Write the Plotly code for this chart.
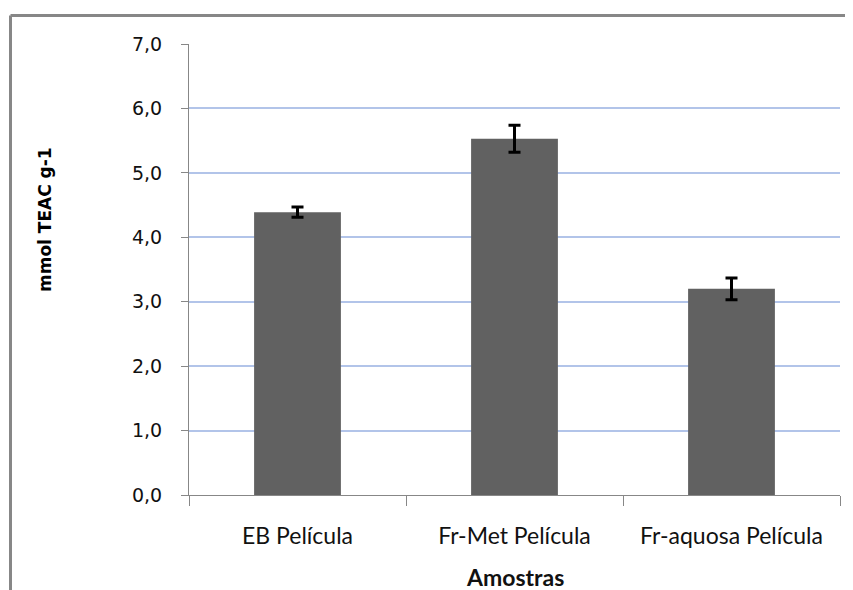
import plotly.graph_objects as go

categories = ["EB Película", "Fr-Met Película", "Fr-aquosa Película"]
values = [4.39, 5.53, 3.20]
errors = [0.08, 0.21, 0.17]
y_ticks = [0, 1, 2, 3, 4, 5, 6, 7]

fig = go.Figure()
fig.add_trace(go.Bar(
    x=categories, y=values,
    marker=dict(color="#616161", line=dict(width=0)),
    width=0.4,
    error_y=dict(type="data", array=errors, color="black", thickness=3, width=6),
))

# page body has an 8px margin; figure coordinates = reference - 8
OFF = 8
W, H = 853 - OFF, 590 - OFF
L, T = 189 - OFF, 44 - OFF
R = W - (840 - OFF)
B = H - (495 - OFF)
pw, ph = W - L - R, H - T - B

def px(x):
    return (x - OFF - L) / pw

def py(y):
    return (H - B - (y - OFF)) / ph

fig.update_layout(
    width=W, height=H,
    margin=dict(l=L, r=R, t=T, b=B, autoexpand=False),
    paper_bgcolor="white", plot_bgcolor="white",
    separators=",.",
    showlegend=False,
    xaxis=dict(
        showgrid=False, showline=True, linecolor="#878787", linewidth=1,
        ticks="outside", tickson="boundaries", ticklen=10, tickcolor="#878787",
        tickfont=dict(family="Lato", size=23, color="#111111"),
        ticklabelstandoff=20,
    ),
    yaxis=dict(
        range=[0, 7], tickvals=y_ticks, tickformat=".1f",
        showgrid=True, gridcolor="#b2c4e9", gridwidth=2,
        showline=True, linecolor="#878787", linewidth=1,
        ticks="outside", ticklen=7, tickcolor="#878787",
        tickfont=dict(family="DejaVu Sans", size=19, color="#111111"),
        ticklabelstandoff=15,
        zeroline=False,
    ),
    annotations=[
        dict(text="<b>mmol TEAC g-1</b>", xref="paper", yref="paper",
             x=px(45), y=py(220), xanchor="center", yanchor="middle", textangle=-90,
             showarrow=False, font=dict(family="DejaVu Sans", size=17, color="black")),
        dict(text="<b>Amostras</b>", xref="paper", yref="paper",
             x=px(515), y=py(577), xanchor="center", yanchor="middle",
             showarrow=False, font=dict(family="Lato", size=23, color="#111111")),
    ],
    shapes=[
        dict(type="line", xref="paper", yref="paper", x0=px(10.5), x1=px(870), y0=py(15.5), y1=py(15.5),
             line=dict(color="#878787", width=3)),
        dict(type="line", xref="paper", yref="paper", x0=px(10.5), x1=px(10.5), y0=py(15.5), y1=py(620),
             line=dict(color="#878787", width=3)),
    ],
)

fig.write_html("out.html")
